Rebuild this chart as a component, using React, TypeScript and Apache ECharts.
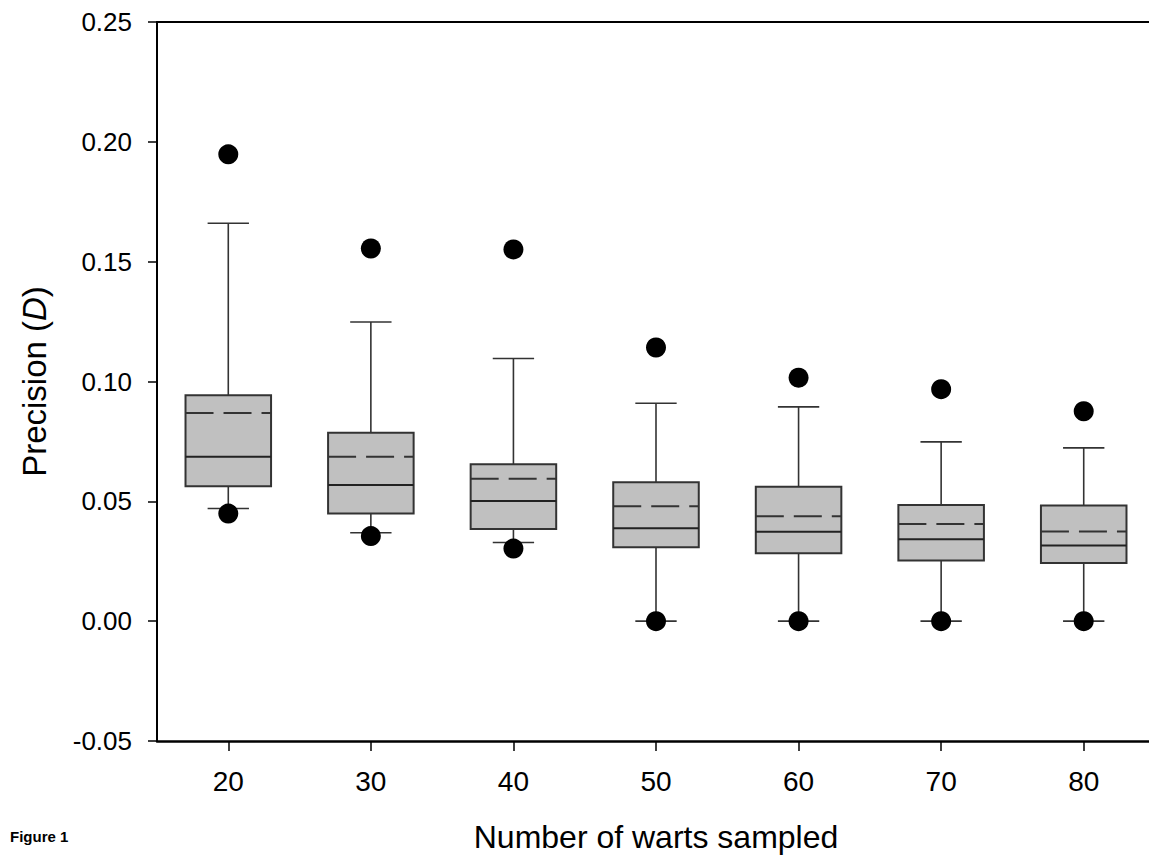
import React, { useEffect, useRef } from "react";
import * as echarts from "echarts";

const categories = ["20", "30", "40", "50", "60", "70", "80"];
const whiskerHigh = [0.166, 0.1248, 0.1096, 0.0909, 0.0894, 0.0748, 0.0723];
const q3Values = [0.0943, 0.0786, 0.0655, 0.058, 0.0561, 0.0485, 0.0483];
const meanValues = [0.0869, 0.0686, 0.0594, 0.048, 0.0438, 0.0405, 0.0374];
const medianValues = [0.0686, 0.0568, 0.0501, 0.0388, 0.0373, 0.0342, 0.0316];
const q1Values = [0.0563, 0.0449, 0.0385, 0.0308, 0.0283, 0.0253, 0.0243];
const whiskerLow = [0.047, 0.0369, 0.0328, 0, 0, 0, 0];
const outlierHigh = [0.1948, 0.1555, 0.1551, 0.1142, 0.1016, 0.0968, 0.0876];
const outlierLow = [0.0449, 0.0355, 0.0303, 0, 0, 0, 0];
const yTicks = { min: -0.05, max: 0.25, interval: 0.05 };

const FONT = "'Liberation Sans', Arial, Helvetica, sans-serif";

export default function App() {
  const ref = useRef<HTMLDivElement>(null);

  useEffect(() => {
    if (!ref.current) return;
    const chart = echarts.init(ref.current, undefined, { renderer: "svg" });

    const boxData = categories.map((_, i) => [
      i,
      whiskerLow[i],
      q1Values[i],
      medianValues[i],
      q3Values[i],
      whiskerHigh[i],
      meanValues[i],
    ]);
    const dots: number[][] = [];
    categories.forEach((_, i) => {
      dots.push([i, outlierHigh[i]]);
      dots.push([i, outlierLow[i]]);
    });

    const renderItem = (params: any, api: any) => {
      const idx = api.value(0);
      const cx = api.coord([idx, 0])[0];
      const band = api.size([1, 0])[0];
      const boxW = band * 0.6;
      const capW = band * 0.29;
      const y = (k: number) => api.coord([idx, api.value(k)])[1];
      const yLo = y(1), yQ1 = y(2), yMed = y(3), yQ3 = y(4), yHi = y(5), yMean = y(6);
      const lineStyle = { stroke: "#333", lineWidth: 1.6 };
      const left = cx - boxW / 2;
      return {
        type: "group",
        children: [
          { type: "line", shape: { x1: cx, y1: yHi, x2: cx, y2: yQ3 }, style: lineStyle },
          { type: "line", shape: { x1: cx, y1: yQ1, x2: cx, y2: yLo }, style: lineStyle },
          { type: "line", shape: { x1: cx - capW / 2, y1: yHi, x2: cx + capW / 2, y2: yHi }, style: lineStyle },
          { type: "line", shape: { x1: cx - capW / 2, y1: yLo, x2: cx + capW / 2, y2: yLo }, style: lineStyle },
          {
            type: "rect",
            shape: { x: left, y: yQ3, width: boxW, height: yQ1 - yQ3 },
            style: { fill: "#c0c0c0", stroke: "#333", lineWidth: 2 },
          },
          {
            type: "line",
            shape: { x1: left, y1: yMed, x2: left + boxW, y2: yMed },
            style: { stroke: "#222", lineWidth: 2 },
          },
          {
            type: "line",
            shape: { x1: left, y1: yMean, x2: left + boxW, y2: yMean },
            style: { stroke: "#333", lineWidth: 2, lineDash: [28, 10] },
          },
        ],
      };
    };

    chart.setOption({
      animation: false,
      backgroundColor: "#fff",
      textStyle: { fontFamily: FONT },
      grid: { left: 157, top: 22, right: 0, bottom: 119 },
      xAxis: [
        {
          type: "category",
          data: categories,
          position: "bottom",
          boundaryGap: true,
          name: "Number of warts sampled",
          nameLocation: "middle",
          nameGap: 80,
          nameTextStyle: { fontSize: 32, color: "#000", fontFamily: FONT },
          axisLine: { show: true, onZero: false, lineStyle: { color: "#000", width: 2.5 } },
          axisTick: { show: true, alignWithLabel: true, length: 10, lineStyle: { color: "#000", width: 1.5 } },
          axisLabel: { fontSize: 28, color: "#000", margin: 26, fontFamily: FONT },
          splitLine: { show: false },
        },
        {
          type: "category",
          data: categories,
          position: "top",
          axisLine: { show: true, onZero: false, lineStyle: { color: "#000", width: 2 } },
          axisTick: { show: false },
          axisLabel: { show: false },
          splitLine: { show: false },
        },
      ],
      yAxis: {
        type: "value",
        min: yTicks.min,
        max: yTicks.max,
        interval: yTicks.interval,
        name: "Precision ({it|D})",
        nameLocation: "middle",
        nameGap: 106,
        nameTextStyle: {
          fontSize: 33,
          color: "#000",
          fontFamily: FONT,
          rich: { it: { fontSize: 33, fontStyle: "italic", color: "#000", fontFamily: FONT } },
        },
        axisLine: { show: true, lineStyle: { color: "#000", width: 2 } },
        axisTick: { show: true, length: 9, lineStyle: { color: "#000", width: 1.5 } },
        axisLabel: {
          fontSize: 26,
          color: "#000",
          margin: 25,
          fontFamily: FONT,
          formatter: (v: number) => v.toFixed(2),
        },
        splitLine: { show: false },
      },
      graphic: [
        {
          type: "text",
          left: 10,
          top: 829,
          style: { text: "Figure 1", font: `bold 15px ${FONT}`, fill: "#000" },
        },
      ],
      series: [
        {
          type: "custom",
          renderItem,
          data: boxData,
          encode: { x: 0, y: [1, 2, 3, 4, 5, 6] },
          xAxisIndex: 0,
          z: 2,
        },
        {
          type: "scatter",
          data: dots,
          symbol: "circle",
          symbolSize: 20,
          itemStyle: { color: "#000", opacity: 1 },
          xAxisIndex: 0,
          z: 3,
        },
      ],
    });

    return () => chart.dispose();
  }, []);

  return (
    <div
      style={{
        position: "absolute",
        left: 0,
        top: 0,
        width: 1149,
        height: 860,
        overflow: "hidden",
        background: "#fff",
      }}
    >
      <div ref={ref} style={{ width: 1155, height: 860 }} />
    </div>
  );
}
